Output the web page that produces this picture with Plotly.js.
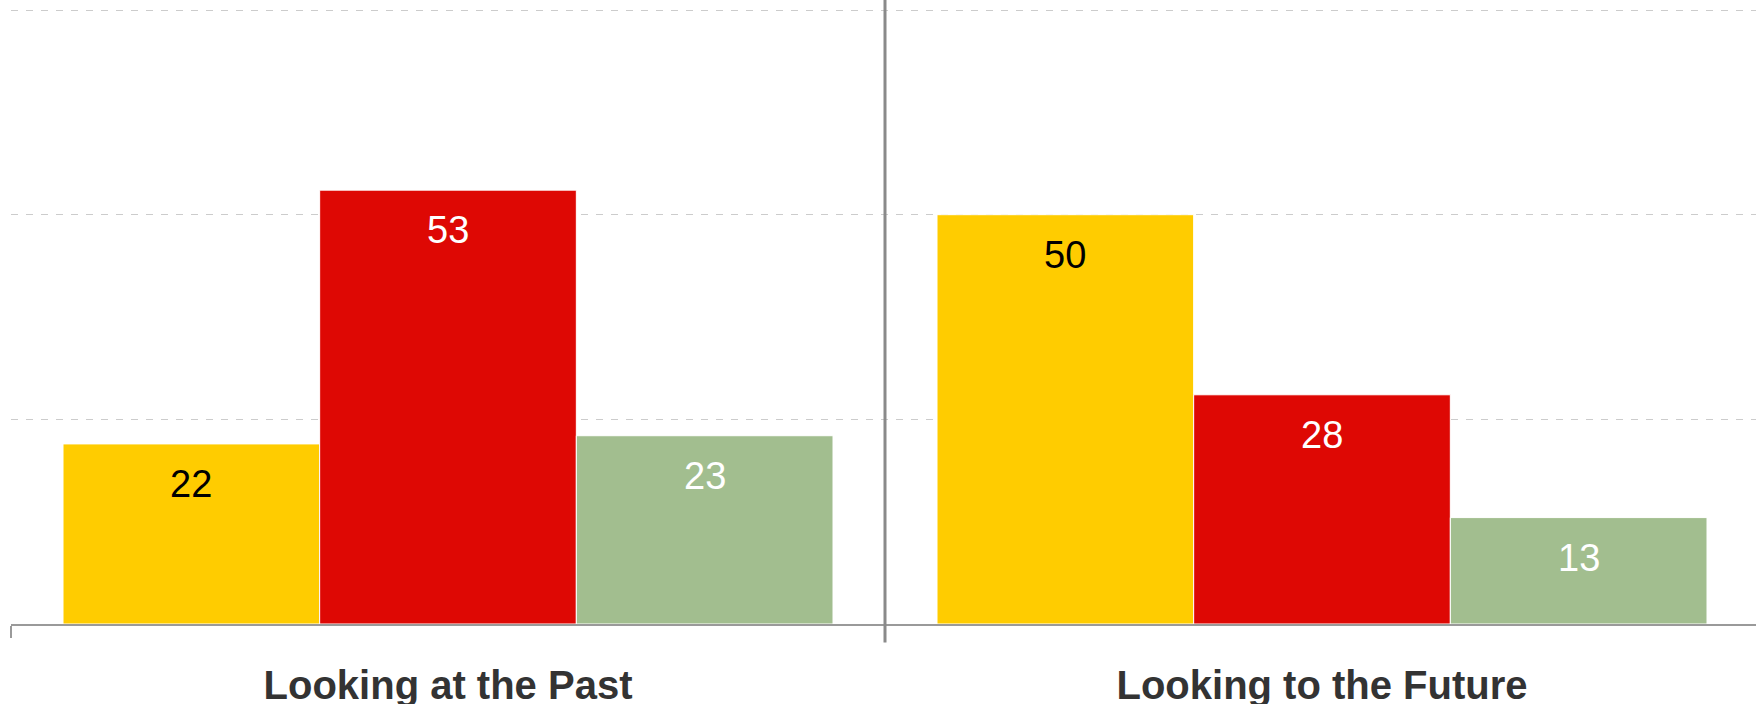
<!DOCTYPE html>
<html>
<head>
<meta charset="utf-8">
<script src="https://cdn.plot.ly/plotly-3.0.1.min.js"></script>
<style>
  html, body { margin: 0; padding: 0; background: #ffffff; }
  #chart { width: 1756px; height: 704px; }
</style>
</head>
<body>
<div id="chart"></div>
<script>
// ---- data ----
const categories = ["Looking at the Past", "Looking to the Future"];
const seriesNames = ["Series A", "Series B", "Series C"];
const seriesA = [22, 50];
const seriesB = [53, 28];
const seriesC = [23, 13];
const gridValues = [25, 50, 75];

// ---- styles ----
const colors = ["#FFCC00", "#DE0804", "#A2BE8F"];
const labelColors = ["#000000", "#ffffff", "#ffffff"];
const allSeries = [seriesA, seriesB, seriesC];
const bargap = 0.119;
const fontFamily = "Liberation Sans, Arial, sans-serif";

const W = 1756, H = 704;
const marginL = 11, marginB = 80, marginT = 8;
const catPx = 874;
const plotW = W - marginL;
const xMax = -0.5 + plotW / catPx;

const traces = allSeries.map((vals, i) => ({
  type: "bar",
  name: seriesNames[i],
  x: categories,
  y: vals,
  marker: { color: colors[i], line: { color: "#ffffff", width: 1 } },
  hoverinfo: "skip",
  showlegend: false
}));

const barW = (1 - bargap) / allSeries.length;
const annotations = [];
allSeries.forEach((vals, i) => {
  vals.forEach((v, j) => {
    annotations.push({
      x: j + (i - (allSeries.length - 1) / 2) * barW,
      y: v,
      xref: "x", yref: "y",
      text: String(v),
      showarrow: false,
      yanchor: "middle",
      yshift: -40,
      font: { family: fontFamily, size: 38, color: labelColors[i] }
    });
  });
});

const layout = {
  width: W, height: H,
  margin: { l: marginL, r: 0, t: marginT, b: marginB, pad: 0 },
  paper_bgcolor: "#ffffff",
  plot_bgcolor: "#ffffff",
  barmode: "group",
  bargap: bargap,
  bargroupgap: 0,
  showlegend: false,
  xaxis: {
    type: "category",
    range: [-0.5, xMax],
    showline: true,
    linecolor: "#9a9a9a",
    linewidth: 2,
    ticks: "outside",
    tickson: "boundaries",
    ticklen: 12,
    tickwidth: 2,
    tickcolor: "#9a9a9a",
    showgrid: false,
    zeroline: false,
    tickfont: { family: fontFamily, size: 40, color: "#333333", weight: "bold" },
    ticklabelstandoff: 25,
    fixedrange: true
  },
  yaxis: {
    range: [0, 75.25],
    tickvals: gridValues,
    showticklabels: false,
    showgrid: true,
    gridcolor: "#cccccc",
    gridwidth: 1,
    griddash: "7px,8px",
    zeroline: false,
    showline: false,
    ticks: "",
    fixedrange: true
  },
  shapes: [{
    type: "line",
    xref: "x", yref: "paper",
    x0: 0.5, x1: 0.5,
    y0: -0.03, y1: 1.02,
    line: { color: "#8a8a8a", width: 3 },
    layer: "above"
  }],
  annotations: annotations
};

Plotly.newPlot("chart", traces, layout, { displayModeBar: false, staticPlot: true });
</script>
</body>
</html>
